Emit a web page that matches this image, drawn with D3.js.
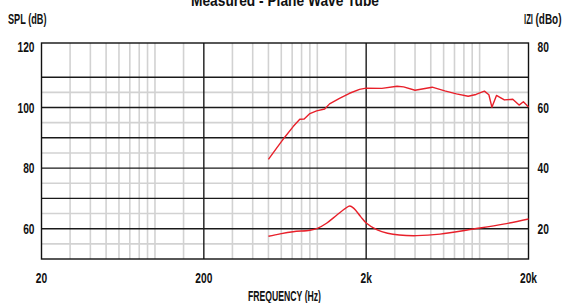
<!DOCTYPE html>
<html><head><meta charset="utf-8">
<script src="https://cdn.jsdelivr.net/npm/d3@7/dist/d3.min.js"></script>
<style>
html,body{margin:0;padding:0;background:#fff;}
svg{display:block;}
text{font-family:"Liberation Sans",Arial,sans-serif;font-weight:bold;fill:#111;}
</style></head>
<body>
<svg id="c" width="564" height="303"></svg>
<script>
// ---- data ----
const splFreq = [500,560,630,710,780,830,900,990,1110,1190,1370,1580,1820,2000,2500,3100,3400,4000,5100,6100,7200,8500,9500,10700,11400,11900,12700,13500,14200,16000,17500,18600,20000];
const splDb   = [82.9,86.5,90.2,93.7,96.1,96.2,98.0,98.9,99.5,101.2,103.0,104.7,106.0,106.4,106.3,107.0,106.8,105.7,106.7,105.5,104.5,103.7,104.3,105.4,104.2,100.1,104.0,103.2,102.5,102.7,100.8,101.9,100.2];
const impFreq = [500,590,710,900,1000,1140,1320,1490,1585,1680,1850,2010,2340,2710,3200,4100,5700,9200,14000,20000];
const impDbo  = [17.5,18.3,19.0,19.5,20.1,21.8,24.5,26.7,27.5,26.7,24.0,21.8,19.6,18.5,17.9,17.7,18.2,19.9,21.5,23.2];
const xTickValues = [20,200,2000,20000];
const xTickLabels = ["20","200","2k","20k"];
const yLeftTicks  = [120,100,80,60];
const yRightTicks = [80,60,40,20];
const title = "Measured - Plane Wave Tube";

// ---- layout ----
const svg = d3.select("#c");
const L = 41.5, R = 528.5, T = 43, B = 259;
const x = d3.scaleLog().domain([20,20000]).range([L,R]);
const y = d3.scaleLinear().domain([50,100]).range([B,107.5]);
const yr = d3.scaleLinear().domain([10,60]).range([B,107.5]);

// condense text horizontally (reference uses a condensed face)
function squeeze(sel, k){
  sel.each(function(){
    const w = this.getComputedTextLength();
    d3.select(this).attr("textLength", w*k).attr("lengthAdjust","spacingAndGlyphs");
  });
}
function fitTo(sel, w){
  sel.attr("textLength", w).attr("lengthAdjust","spacingAndGlyphs");
}

// minor vertical grid: 1.5..5 and 7.5 x decade start
const minorX = [];
[20,200,2000].forEach(b=>{[1.5,2,2.5,3,3.5,4,4.5,5,7.5].forEach(m=>minorX.push(b*m));});
svg.append("g").selectAll("line").data(minorX).join("line")
  .attr("x1",d=>x(d)).attr("x2",d=>x(d)).attr("y1",T).attr("y2",B)
  .attr("stroke","#d2d2d2").attr("stroke-width",1.6);
// minor horizontal grid
const minorY = [55,65,75,85,95,105];
svg.append("g").selectAll("line").data(minorY).join("line")
  .attr("x1",L).attr("x2",R).attr("y1",d=>y(d)).attr("y2",d=>y(d))
  .attr("stroke","#d2d2d2").attr("stroke-width",1.6);
// major horizontal grid
const majorY = [60,70,80,90,100,110];
svg.append("g").selectAll("line").data(majorY).join("line")
  .attr("x1",L).attr("x2",R).attr("y1",d=>y(d)).attr("y2",d=>y(d))
  .attr("stroke","#1a1a1a").attr("stroke-width",1.4);
// major vertical grid
svg.append("g").selectAll("line").data([200,2000]).join("line")
  .attr("x1",d=>x(d)).attr("x2",d=>x(d)).attr("y1",T).attr("y2",B)
  .attr("stroke","#1a1a1a").attr("stroke-width",1.4);
// frame
svg.append("rect").attr("x",L).attr("y",T).attr("width",R-L).attr("height",B-T)
  .attr("fill","none").attr("stroke","#111").attr("stroke-width",1.4);

// curves
const red = "#e8202a";
const splLine = d3.line().x(d=>x(d[0])).y(d=>y(d[1])).curve(d3.curveLinear);
svg.append("path").datum(d3.zip(splFreq,splDb)).attr("d",splLine)
  .attr("fill","none").attr("stroke",red).attr("stroke-width",1.4).attr("stroke-linejoin","round");
const impLine = d3.line().x(d=>x(d[0])).y(d=>yr(d[1])).curve(d3.curveCatmullRom.alpha(0.5));
svg.append("path").datum(d3.zip(impFreq,impDbo)).attr("d",impLine)
  .attr("fill","none").attr("stroke",red).attr("stroke-width",1.4);

// tick labels
const kNum = 0.68;
svg.append("g").selectAll("text").data(yLeftTicks).join("text")
  .attr("x",34.5).attr("y",d=>Math.max(y(d),T+1)+5.3).attr("text-anchor","end")
  .attr("font-size",15).text(d=>d).call(squeeze,kNum);
svg.append("g").selectAll("text").data(yRightTicks).join("text")
  .attr("x",537.5).attr("y",d=>Math.max(yr(d),T+1)+5.3).attr("text-anchor","start")
  .attr("font-size",15).text(d=>d).call(squeeze,kNum);
svg.append("g").selectAll("text").data(xTickValues).join("text")
  .attr("x",d=>x(d)).attr("y",283).attr("text-anchor","middle")
  .attr("font-size",15).text((d,i)=>xTickLabels[i]).call(squeeze,kNum);

// axis titles
svg.append("text").attr("x",8).attr("y",23.5).attr("font-size",14.5).text("SPL (dB)").call(fitTo,38.5);
svg.append("text").attr("x",524).attr("y",23.5).attr("font-size",14).text("IZI").call(fitTo,9);
svg.append("text").attr("x",535.5).attr("y",23.5).attr("font-size",14).attr("font-weight","normal").text("(dBo)").call(fitTo,26);
svg.append("text").attr("x",284.5).attr("y",300.5).attr("text-anchor","middle").attr("font-size",14.5).text("FREQUENCY (Hz)").call(fitTo,73);
svg.append("text").attr("x",285).attr("y",6).attr("text-anchor","middle").attr("font-size",17).text(title).call(fitTo,188);
</script>
</body></html>
